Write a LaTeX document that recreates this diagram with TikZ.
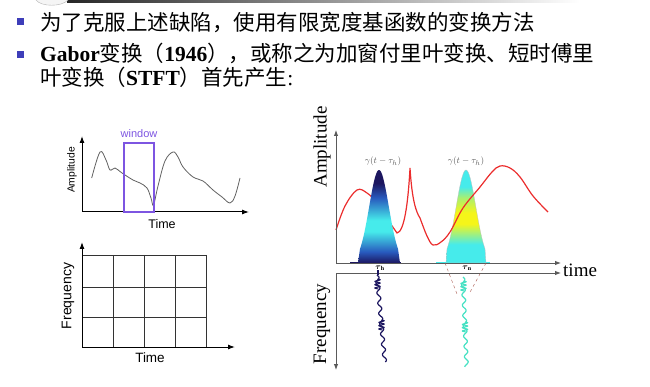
\documentclass[tikz,border=0pt]{standalone}
\usepackage{amsmath}
\usepackage{fontspec}
\setmainfont{Liberation Serif}
\setsansfont{Liberation Sans}
\newfontfamily\cjk{Noto Sans CJK SC}
\usetikzlibrary{arrows.meta}
\definecolor{winpurple}{RGB}{125,85,225}
\definecolor{navyc}{RGB}{28,22,95}
\definecolor{bluec}{RGB}{40,90,190}
\definecolor{cyanc}{RGB}{70,235,235}
\definecolor{yellowc}{RGB}{245,245,25}
\definecolor{limec}{RGB}{170,240,110}
\definecolor{redc}{RGB}{235,45,45}
\definecolor{aquac}{RGB}{70,225,195}
\definecolor{bulletc}{RGB}{62,62,185}
\definecolor{axisg}{RGB}{90,90,90}
\definecolor{dashc}{RGB}{170,90,80}
\pgfdeclareverticalshading{gaussone}{100bp}{color(0bp)=(navyc); color(25bp)=(navyc); color(31bp)=(bluec); color(42bp)=(cyanc); color(48bp)=(cyanc); color(60bp)=(bluec); color(68bp)=(navyc); color(100bp)=(navyc)}
\pgfdeclareverticalshading{gausstwo}{100bp}{color(0bp)=(cyanc); color(25bp)=(cyanc); color(35bp)=(cyanc); color(46bp)=(yellowc); color(52bp)=(yellowc); color(60bp)=(limec); color(66bp)=(cyanc); color(100bp)=(cyanc)}
\tikzset{
  bulletsq/.style={fill=bulletc, minimum size=7pt, inner sep=0pt},
  cntext/.style={anchor=base west, inner sep=0pt, text height=16pt, text depth=4pt, font=\fontsize{21.5}{26}\selectfont},
  slabel/.style={font=\sffamily\fontsize{11}{12}\selectfont, inner sep=0pt},
  rlabel/.style={font=\fontsize{19}{20}\selectfont, inner sep=0pt},
  axleft/.style={line width=1pt, -{Latex[length=7pt,width=5pt]}},
  axright/.style={axisg, line width=0.9pt, -{Latex[length=6pt,width=4.5pt]}},
  gridln/.style={line width=0.9pt, draw=black!80},
}
\begin{document}
\begin{tikzpicture}[x=1pt,y=-1pt]
\useasboundingbox (0,0) rectangle (650,387);
% header decoration
\shade[left color=black!85, right color=white] (67,0) rectangle (580,3);
\draw[gray!60, fill=gray!8] (36,0) .. controls (41,7) and (62,7) .. (68,0);
% bullets and text
\node[bulletsq] (b1) at (20.5,22) {};
\node[bulletsq] (b2) at (20.5,55) {};
\node[cntext] (l1) at (40,30.5) {\cjk 为了克服上述缺陷，使用有限宽度基函数的变换方法};
\node[cntext] (l2) at (40,62) {\textbf{Gabor}{\cjk 变换（}\textbf{1946}{\cjk ），或称之为加窗付里叶变换、短时傅里}};
\node[cntext] (l3) at (40,86) {{\cjk 叶变换（}\textbf{STFT}{\cjk ）首先产生}:};

% ---------- left top plot ----------
\coordinate (o1) at (82,212);
\coordinate (y1) at (82,136);
\coordinate (x1) at (249,212);
\draw[gray!75!black, line width=0.8pt] plot[smooth, tension=0.6] coordinates {(91.7,178) (100,152) (106,160) (110,170) (115,168) (122,173) (133,180) (140,183) (147,188) (151,198) (153.5,205) (158,186) (165,161) (173,152) (178,157) (183,167) (193,177) (203,181) (213,190) (222,197) (230,203) (235,196) (240,178)};
\draw[axleft] (o1) -- (y1);
\draw[axleft] (o1) -- (x1);
\draw[winpurple, line width=1.3pt] (124,143) rectangle (154,212);
\node[slabel, text=winpurple] (win) at (139,134) {window};
\node[slabel, rotate=90, font=\sffamily\fontsize{10.3}{11}\selectfont] (amp1) at (72,170) {Amplitude};
\node[slabel, font=\sffamily\fontsize{12.5}{13}\selectfont] (t1) at (162,224) {Time};

% ---------- left bottom grid ----------
\coordinate (o2) at (82,347);
\coordinate (y2) at (82,242);
\coordinate (x2) at (235,347);
\foreach \gx in {113,144,175,206} \draw[gridln] (\gx,255) -- (\gx,347);
\foreach \gy in {255,287,317} \draw[gridln] (82,\gy) -- (206,\gy);
\draw[axleft] (o2) -- (y2);
\draw[axleft] (o2) -- (x2);
\node[slabel, rotate=90, font=\sffamily\fontsize{14}{15}\selectfont] (fr1) at (68,296) {Frequency};
\node[slabel, font=\sffamily\fontsize{13.5}{14}\selectfont] (t2) at (150,358) {Time};

% ---------- right plot ----------
\coordinate (o3) at (336,263);
\coordinate (y3) at (336,130);
\coordinate (x3) at (561,263);
\coordinate (o4) at (336,273);
\coordinate (x4) at (561,273);
\coordinate (f4) at (336,370);
% base bands
\fill[navyc] (350,261.5) rectangle (401,264);
\fill[cyanc] (436,261.5) rectangle (490,264);
% second window (under red curve)
\shade[shading=gausstwo, draw=gray!50, line width=0.3pt] (446,263) -- plot[domain=-19:19, samples=60] ({466+\x},{263-93*exp(-0.5*(\x/9.8)*(\x/9.8))}) -- (486,263) -- cycle;
% red signal
\draw[redc, line width=1.2pt] plot[smooth, tension=0.6] coordinates {(336,230) (345,206) (357,190) (367,193) (377,203) (388,220) (397,233)}
  .. controls (404,232) and (408,205) .. (410,168)
  .. controls (412,200) and (416,212) .. (420,218)
  plot[smooth, tension=0.6] coordinates {(420,218) (427,236) (433,245) (441,242) (450,232) (463,208) (480,187) (492,172) (500,166) (510,168) (520,177) (533,196) (548,212)};
% first window (over red curve)
\shade[shading=gaussone] (358,263) -- plot[domain=-19:19, samples=60] ({379+\x},{263-93*exp(-0.5*(\x/9.8)*(\x/9.8))}) -- (400,263) -- cycle;
% axes
\draw[axright] (o3) -- (y3);
\draw[axright] (o3) -- (x3);
\draw[axright] (o4) -- (x4);
\draw[axright] (o4) -- (f4);
\node[rlabel, rotate=90] (amp2) at (322,147) {Amplitude};
\node[rlabel, rotate=90] (fr2) at (322,324) {Frequency};
\node[rlabel, anchor=west] (tm) at (563,270) {time};
% window labels
\node[font=\fontsize{9.5}{10}\selectfont, text=black!65, inner sep=0pt] (g1) at (383,161) {$\gamma(t-\tau_h)$};
\node[font=\fontsize{9.5}{10}\selectfont, text=black!65, inner sep=0pt] (g2) at (466,161) {$\gamma(t-\tau_h)$};
\node[font=\fontsize{8}{8}\selectfont, inner sep=0pt] (th1) at (380,268) {$\boldsymbol{\tau}_{\mathbf{h}}$};
\node[font=\fontsize{8}{8}\selectfont, inner sep=0pt] (th2) at (467,268) {$\boldsymbol{\tau}_{\mathbf{n}}$};
% dashed cone
\draw[dashc, dashed, line width=0.4pt] (445,263) -- (457,294);
\draw[dashc, dashed, line width=0.4pt] (486,263) -- (469,294);
% frequency traces
\draw[navyc, line width=1.3pt] (378,270) -- (378,275);
\draw[navyc, line width=1.2pt] plot[smooth, domain=275:362, samples=120] ({377+(\x-275)*0.09+1.8*sin((\x-275)*35)}, \x);
\draw[navyc, line width=1.1pt] plot[smooth, domain=279:289, samples=40] ({377.5+2.6*sin((\x-279)*110)}, \x);
\draw[navyc, line width=1.1pt] plot[smooth, domain=320:330, samples=40] ({381.5+2.6*sin((\x-320)*110)}, \x);
\draw[aquac, line width=1.2pt] plot[smooth, domain=277:367, samples=120] ({463+(\x-277)*0.04+1.8*sin((\x-277)*35)}, \x);
\draw[aquac, line width=1.1pt] plot[smooth, domain=281:291, samples=40] ({463.5+2.6*sin((\x-281)*110)}, \x);
\draw[aquac, line width=1.1pt] plot[smooth, domain=322:332, samples=40] ({465+2.6*sin((\x-322)*110)}, \x);
\end{tikzpicture}
\end{document}
